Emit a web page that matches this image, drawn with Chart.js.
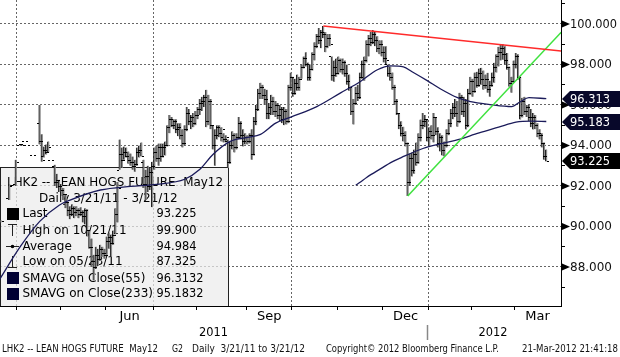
<!DOCTYPE html>
<html><head><meta charset="utf-8">
<script src="https://cdn.jsdelivr.net/npm/chart.js@4.4.0/dist/chart.umd.min.js"></script>
<style>html,body{margin:0;padding:0;background:#fff;}#wrap{width:620px;height:357px;position:relative;}</style>
</head><body><div id="wrap"><canvas id="c" width="620" height="357"></canvas></div>
<script>
// ---- data (index = trading day since 3/21/11) ----
const opens = [
null,90.25,null,null,null,91.4,null,null,92.1,null,
94.0,94.05,94.2,94.0,null,null,93.55,null,null,95.1,
94.2,93.5,93.8,93.7,93.3,null,93.0,92.2,92.3,92.0,
91.8,91.6,91.2,90.8,90.6,90.9,90.7,90.8,90.6,90.7,
90.5,90.8,89.8,89.0,88.3,88.0,88.6,88.4,88.9,88.7,
88.6,89.3,89.5,89.2,89.6,90.6,92.8,93.6,93.3,93.7,
93.5,93.3,93.2,93.0,93.1,93.7,93.8,93.2,92.1,92.5,
92.0,92.7,93.0,93.7,93.4,93.9,93.5,93.9,94.0,94.9,
95.3,95.0,95.2,94.8,94.9,94.5,94.1,94.8,95.6,95.2,
95.4,95.1,95.5,95.8,96.1,96.2,96.4,95.2,96.2,95.0,
94.0,94.5,94.9,94.6,94.4,94.3,94.2,93.2,94.0,94.5,
93.9,94.4,95.1,94.5,94.2,94.4,94.2,94.5,93.6,95.2,
95.8,96.6,96.9,96.5,96.3,95.6,95.9,96.2,95.7,96.0,
95.5,95.8,95.3,95.7,95.2,96.9,97.4,96.6,97.1,96.9,
97.3,97.9,98.3,98.0,97.4,97.8,98.5,98.9,99.4,99.2,
99.6,99.5,98.9,99.3,98.4,97.5,97.9,97.6,98.2,97.8,
98.1,97.6,97.2,96.9,95.7,96.1,96.6,96.4,97.4,98.0,
98.2,99.0,99.3,99.1,99.5,99.2,98.8,99.0,98.6,98.3,
98.0,97.6,97.4,96.9,96.2,95.6,95.0,94.6,94.5,94.1,
92.2,93.4,92.8,93.6,93.2,94.4,95.0,95.2,95.3,94.4,
94.7,94.5,95.4,94.7,94.1,94.4,93.8,94.0,94.6,95.1,
95.6,95.9,95.6,95.2,96.4,95.7,96.1,95.0,96.6,97.2,
96.7,97.4,97.0,97.6,97.3,97.0,97.3,96.8,97.0,97.4,
97.9,98.4,98.6,98.8,98.5,98.2,97.9,97.1,97.2,98.0,
98.4,97.4,95.5,96.2,95.7,95.9,95.4,95.1,95.4,95.0,
94.6,94.5,94.1,93.5];
const highs = [
null,90.3,null,null,null,92.1,null,null,93.3,null,
94.05,94.05,94.2,94.0,null,null,93.55,null,null,96.0,
94.55,93.95,94.05,94.2,93.3,null,93.05,92.6,92.3,92.1,
91.9,91.6,91.2,91.0,91.1,91.0,91.0,90.9,90.95,90.8,
90.9,90.85,89.8,89.4,88.6,89.0,88.9,89.1,89.0,88.9,
89.5,89.7,89.6,89.8,90.9,92.2,94.3,93.9,93.95,93.9,
93.7,93.6,93.45,93.3,93.9,94.0,94.15,93.3,92.8,93.0,
92.9,93.2,93.9,94.0,94.1,94.1,94.1,94.2,95.0,95.5,
95.4,95.3,95.3,95.1,95.1,94.8,95.0,95.9,95.8,95.5,
95.6,95.7,95.9,96.3,96.4,96.5,96.75,96.5,96.3,95.0,
94.8,95.0,95.0,94.9,94.6,94.5,94.3,94.2,94.7,94.6,
94.6,95.4,95.2,94.8,94.6,94.5,94.6,94.8,95.4,96.0,
96.8,97.1,97.0,96.8,96.75,96.1,96.5,96.4,96.2,96.1,
96.0,95.9,95.9,95.8,97.0,97.6,97.4,97.3,97.5,97.4,
98.0,98.4,98.6,98.1,98.0,98.6,99.1,99.5,99.8,99.7,
99.9,99.6,99.5,99.5,98.4,98.2,98.3,98.4,98.3,98.3,
98.2,98.0,97.5,96.9,96.3,96.9,97.0,97.6,98.2,98.4,
99.2,99.45,99.6,99.7,99.6,99.4,99.2,99.2,98.9,98.9,
98.0,97.9,97.6,97.0,96.3,95.6,95.2,94.93,94.7,94.15,
93.6,93.65,93.8,94.15,94.6,95.28,95.6,95.5,95.3,94.9,
95.0,95.6,95.4,94.9,94.6,94.5,94.2,94.8,95.3,95.8,
96.1,96.3,96.2,96.6,96.5,96.4,96.3,96.8,97.39,97.3,
97.6,97.64,97.8,97.84,97.7,97.5,97.59,97.2,97.6,98.08,
98.5,98.87,98.97,99.0,98.9,98.57,97.9,97.4,98.2,98.57,
98.5,97.4,96.36,96.4,96.0,96.0,95.8,95.6,95.5,95.1,
94.8,94.6,94.15,93.8];
const lows = [
null,90.2,null,null,null,91.3,null,null,92.0,null,
94.0,94.0,94.2,94.0,null,null,93.55,null,null,94.05,
93.2,93.4,93.55,93.65,93.3,null,92.0,91.9,91.7,91.5,
91.3,90.9,90.5,90.35,90.5,90.4,90.5,90.4,90.5,90.2,
90.1,89.5,88.9,88.0,87.325,87.9,88.05,88.3,88.5,88.4,
88.6,88.9,88.5,89.1,89.6,90.2,92.8,92.9,93.3,93.4,
93.1,93.0,92.8,92.7,93.0,93.4,93.45,91.9,91.3,91.7,
91.8,90.95,92.8,93.2,93.0,93.2,93.4,93.5,93.95,94.6,
94.9,94.8,94.6,94.45,94.3,93.9,94.0,94.7,95.0,94.8,
94.9,95.0,95.3,95.5,95.7,95.9,94.9,95.0,94.8,93.8,
93.0,94.3,94.4,94.2,94.15,94.15,92.9,93.1,93.8,93.65,
93.8,94.3,94.3,93.95,94.05,94.05,94.1,93.3,93.5,95.0,
95.7,96.3,96.3,96.0,95.3,95.3,95.5,95.5,95.4,95.3,
95.2,95.1,95.0,95.03,95.1,96.7,96.4,96.5,96.7,96.7,
97.3,97.8,97.9,97.2,97.2,97.7,98.2,98.8,99.0,98.8,
99.3,98.6,98.8,98.9,97.2,97.15,97.4,97.5,97.6,97.5,
97.4,97.0,96.7,95.5,95.03,96.0,96.2,96.3,97.3,97.2,
98.1,98.4,98.9,99.0,98.9,98.6,98.5,98.4,98.1,98.0,
97.4,97.2,96.75,96.0,95.5,94.8,94.44,94.2,93.95,91.5,
92.0,92.47,92.6,93.0,93.1,94.2,94.8,94.9,94.2,93.95,
94.3,94.15,94.5,93.9,93.7,93.5,93.46,93.9,94.5,94.9,
95.3,95.4,94.93,95.1,95.5,95.4,94.79,94.9,96.5,96.4,
96.6,96.85,96.9,97.0,96.75,96.8,96.6,96.41,96.9,97.1,
97.6,97.9,98.2,98.23,98.0,97.74,96.9,96.6,97.1,97.8,
97.25,95.28,95.38,95.5,95.4,95.2,94.9,94.79,94.8,94.4,
94.29,93.9,93.3,93.21];
const closes = [
null,90.25,null,null,null,92.0,null,null,93.2,null,
94.05,94.0,94.2,94.0,null,null,93.55,null,null,94.2,
93.3,93.8,93.7,93.9,93.3,null,92.2,92.3,92.0,91.8,
91.6,91.2,90.8,90.6,90.9,90.7,90.8,90.6,90.7,90.5,
90.8,89.8,89.0,88.3,88.0,88.6,88.4,88.9,88.7,88.6,
89.3,89.5,89.2,89.6,90.6,91.9,93.6,93.3,93.7,93.5,
93.3,93.2,93.0,93.1,93.7,93.8,93.5,92.1,92.5,92.0,
92.7,93.0,93.7,93.4,93.9,93.5,93.9,94.0,94.9,95.3,
95.0,95.2,94.8,94.9,94.5,94.1,94.8,95.6,95.2,95.4,
95.1,95.5,95.8,96.1,96.2,96.4,95.2,96.2,95.0,94.0,
94.5,94.9,94.6,94.8,94.3,94.4,93.2,94.0,94.5,93.9,
94.4,95.1,94.5,94.2,94.4,94.2,94.5,93.6,95.2,95.8,
96.6,96.9,96.5,96.3,95.6,95.9,96.2,95.7,96.0,95.5,
95.8,95.3,95.7,95.2,96.9,97.4,96.6,97.1,96.9,97.3,
97.9,98.3,98.0,97.4,97.8,98.5,98.9,99.4,99.2,99.6,
99.5,98.9,99.3,99.0,97.5,97.9,97.6,98.2,97.8,98.1,
97.6,97.2,96.9,95.7,96.1,96.6,96.4,97.4,98.0,98.2,
99.0,99.3,99.1,99.5,99.2,98.8,99.0,98.6,98.3,98.2,
97.6,97.4,96.9,96.2,95.6,95.0,94.6,94.5,94.1,92.2,
93.4,92.8,93.6,93.2,94.4,95.0,95.2,95.3,94.4,94.7,
94.5,95.4,94.7,94.1,94.4,93.8,94.0,94.6,95.1,95.6,
95.9,95.6,95.2,96.4,95.7,96.1,95.0,96.6,97.2,96.7,
97.4,97.0,97.6,97.3,97.0,97.3,96.8,97.0,97.4,97.9,
98.4,98.6,98.8,98.5,98.2,97.9,97.1,97.2,98.0,98.4,
97.4,95.5,96.2,95.7,95.9,95.4,95.1,95.4,95.0,94.6,
94.5,94.1,93.5,93.225];

const sma55Idx = [0,10,19,28,33,47,61,73,86,93,99,107,115,121,128,135,147,158,167,175,181,187,191,198,204,212,218,227,237,241,245,253];
const sma55Val = [87.3,89.0,90.25,91.05,91.3,91.8,91.98,92.08,92.33,92.82,93.55,94.2,94.4,94.55,95.1,95.4,95.92,96.6,97.15,97.74,97.93,97.88,97.64,97.2,96.8,96.36,96.16,96.02,95.92,96.16,96.36,96.313];
const sma233Idx = [165,167,170,176,182,186,196,205,211,222,231,239,246,253];
const sma233Val = [92.03,92.18,92.42,92.82,93.2,93.4,93.85,94.1,94.25,94.62,94.9,95.15,95.2,95.183];

const resistIdx = [150, 259.8];
const resistVal = [99.9, 98.66];
const supportIdx = [189, 259.9];
const supportVal = [91.5, 99.59];

const monthBounds = [8.5,28.5,49.5,71.5,91.5,114.5,135.5,156.5,177.5,198.5,218.5,238.5];
const quarterBounds = [8.5,71.5,135.5,198.5];
const monthLabels = ['Jun','Sep','Dec','Mar'];
const monthLabelIdx = [60.5,125,188,249];
const yearLabels = ['2011','2012'];
const yearLabelIdx = [99.3,228.4];
const yearSepIdx = 198.5;
const yTickValues = [87,88,89,90,91,92,93,94,95,96,97,98,99,100,101];
const yLabelValues = [88,90,92,94,96,98,100];

const legendTitle = 'LHK2 -- LEAN HOGS FUTURE  May12';
const legendSub = 'Daily 3/21/11 - 3/21/12';
const legendLabels = ['Last','High on 10/21/11','Average','Low on 05/23/11','SMAVG on Close(55)','SMAVG on Close(233)'];
const legendValues = ['93.225','99.900','94.984','87.325','96.3132','95.1832'];
const boxValues = [96.313, 95.183, 93.225];
const boxLabels = ['96.313','95.183','93.225'];
const footerTexts = ['LHK2 -- LEAN HOGS FUTURE  May12','G2','Daily  3/21/11 to 3/21/12','Copyright\u00A9 2012 Bloomberg Finance L.P.','21-Mar-2012 21:41:18'];

// ---- build datasets ----
const toPts = (xs, ys) => xs.map((x, i) => ({x: x, y: ys[i]}));
const barPts = [];
for (let i = 0; i < highs.length; i++) {
  if (highs[i] == null) continue;
  barPts.push({x: i, y: [lows[i], highs[i]]});
}
const BAR_INDEX = 4;
const FONT = '"DejaVu Sans", sans-serif';

const bbg = {
  id: 'bbg',
  beforeDatasetsDraw(chart) {
    const ctx = chart.ctx;
    ctx.save();
    ctx.fillStyle = 'rgba(236,236,236,0.72)';
    ctx.fillRect(0, 167, 228, 139);
    ctx.strokeStyle = '#222';
    ctx.lineWidth = 1;
    ctx.beginPath();
    ctx.moveTo(0, 167.5); ctx.lineTo(228.5, 167.5); ctx.lineTo(228.5, 306);
    ctx.moveTo(0.5, 167.5); ctx.lineTo(0.5, 306);
    ctx.stroke();
    ctx.fillStyle = '#000';
    ctx.textBaseline = 'middle';
    ctx.font = '12px ' + FONT;
    ctx.textAlign = 'left';
    ctx.fillText(legendTitle, 7, 183, 216);
    ctx.fillText(legendSub, 39, 198.5, 141);
    const rowsY = [214, 230.5, 246.5, 262, 278.5, 294];
    for (let r = 0; r < legendLabels.length; r++) {
      ctx.fillText(legendLabels[r], 22.5, rowsY[r]);
      ctx.fillText(legendValues[r], 156.5, rowsY[r], legendValues[r].length > 6 ? 47 : 40);
    }
    ctx.fillStyle = '#000';
    ctx.fillRect(7, 208, 12, 12);
    ctx.beginPath();
    ctx.moveTo(8, 224.5); ctx.lineTo(17, 224.5);
    ctx.moveTo(12.5, 224.5); ctx.lineTo(12.5, 236);
    ctx.moveTo(6, 246.5); ctx.lineTo(19, 246.5);
    ctx.moveTo(12.5, 256); ctx.lineTo(12.5, 267.5);
    ctx.moveTo(8, 267.5); ctx.lineTo(17, 267.5);
    ctx.stroke();
    ctx.beginPath(); ctx.arc(12.5, 246.5, 1.8, 0, Math.PI * 2); ctx.fill();
    ctx.fillStyle = '#000033';
    ctx.fillRect(7, 272, 12, 12);
    ctx.fillRect(7, 288, 12, 12);
    ctx.restore();
  },
  afterDatasetDraw(chart, args) {
    if (args.index !== BAR_INDEX) return;
    const ctx = chart.ctx, xs = chart.scales.x, ys = chart.scales.y, a = chart.chartArea;
    ctx.save();
    ctx.beginPath(); ctx.rect(a.left, a.top, a.right - a.left, a.bottom - a.top); ctx.clip();
    ctx.strokeStyle = '#000';
    ctx.lineWidth = 1;
    ctx.beginPath();
    for (let i = 0; i < highs.length; i++) {
      if (highs[i] == null) continue;
      const px = Math.round(xs.getPixelForValue(i));
      const po = Math.round(ys.getPixelForValue(opens[i])) + 0.5;
      const pc = Math.round(ys.getPixelForValue(closes[i])) + 0.5;
      ctx.moveTo(px - 3, po); ctx.lineTo(px - 1, po);
      ctx.moveTo(px + 1, pc); ctx.lineTo(px + 3, pc);
    }
    ctx.stroke();
    ctx.restore();
  },
  afterDraw(chart) {
    const ctx = chart.ctx, xs = chart.scales.x, ys = chart.scales.y, a = chart.chartArea;
    ctx.save();
    ctx.textBaseline = 'middle';
    ctx.textAlign = 'left';
    ctx.font = '12px ' + FONT;
    for (const v of yLabelValues) {
      const y = ys.getPixelForValue(v);
      ctx.fillStyle = '#000';
      ctx.beginPath();
      ctx.moveTo(a.right + 1, y - 3.5); ctx.lineTo(a.right + 9, y); ctx.lineTo(a.right + 1, y + 3.5); ctx.closePath();
      ctx.fill();
      ctx.fillStyle = '#111';
      ctx.fillText(v.toFixed(3), a.right + 9, y + 0.5, 47);
    }
    for (let k = 0; k < boxValues.length; k++) {
      const y = Math.round(ys.getPixelForValue(boxValues[k]));
      ctx.fillStyle = k < 2 ? '#08082a' : '#000';
      ctx.beginPath();
      ctx.moveTo(a.right + 1, y);
      ctx.lineTo(a.right + 9, y - 8);
      ctx.lineTo(620, y - 8);
      ctx.lineTo(620, y + 8);
      ctx.lineTo(a.right + 9, y + 8);
      ctx.closePath();
      ctx.fill();
      ctx.fillStyle = '#fff';
      ctx.fillText(boxLabels[k], a.right + 9, y + 0.5, 40);
    }
    ctx.fillStyle = '#000';
    ctx.textAlign = 'center';
    ctx.font = '13px ' + FONT;
    for (let m = 0; m < monthLabels.length; m++) {
      ctx.fillText(monthLabels[m], xs.getPixelForValue(monthLabelIdx[m]), 317);
    }
    ctx.font = '12.5px ' + FONT;
    for (let m = 0; m < yearLabels.length; m++) {
      ctx.fillText(yearLabels[m], xs.getPixelForValue(yearLabelIdx[m]), 333, 29);
    }
    const sx = Math.round(xs.getPixelForValue(yearSepIdx)) - 0.5;
    ctx.strokeStyle = '#888'; ctx.lineWidth = 1.5;
    ctx.beginPath(); ctx.moveTo(sx, 325); ctx.lineTo(sx, 340); ctx.stroke();
    ctx.textAlign = 'left';
    ctx.fillStyle = '#111';
    ctx.font = '10px ' + FONT;
    const fx = [2, 172, 192, 326, 522];
    const fw = [156, 11, 113, 173, 96];
    for (let f = 0; f < footerTexts.length; f++) {
      ctx.fillText(footerTexts[f], fx[f], 349.5, fw[f]);
    }
    ctx.restore();
  }
};

new Chart(document.getElementById('c'), {
  type: 'bar',
  data: {
    datasets: [
      {type: 'line', data: toPts(resistIdx, resistVal), borderColor: '#ff2b2b', borderWidth: 1.5, pointRadius: 0},
      {type: 'line', data: toPts(supportIdx, supportVal), borderColor: '#3fe23f', borderWidth: 1.5, pointRadius: 0},
      {type: 'line', data: toPts(sma55Idx, sma55Val), borderColor: '#1b1b5a', borderWidth: 1.3, pointRadius: 0, cubicInterpolationMode: 'monotone'},
      {type: 'line', data: toPts(sma233Idx, sma233Val), borderColor: '#1b1b5a', borderWidth: 1.3, pointRadius: 0, cubicInterpolationMode: 'monotone'},
      {type: 'bar', data: barPts, backgroundColor: '#8e8e8e', borderColor: '#1e1e1e', borderWidth: {left: 1, right: 0, top: 0, bottom: 0}, borderSkipped: false, barThickness: 2, grouped: false}
    ]
  },
  options: {
    responsive: false,
    animation: false,
    devicePixelRatio: 1,
    layout: {padding: 0},
    plugins: {legend: {display: false}, tooltip: {enabled: false}},
    events: [],
    scales: {
      x: {
        type: 'linear', min: 0.65, max: 259.8, offset: false,
        afterBuildTicks: (s) => { s.ticks = monthBounds.map(v => ({value: v})); },
        afterFit: (s) => { s.height = 51; },
        ticks: {display: false},
        grid: {
          offset: false,
          color: (c) => (c.tick && quarterBounds.includes(c.tick.value)) ? '#666' : 'rgba(0,0,0,0)',
          lineWidth: 1, drawTicks: true, tickLength: 4, tickColor: '#000', tickWidth: 1
        },
        border: {display: true, color: '#000', width: 1, dash: [2, 2]}
      },
      y: {
        type: 'linear', position: 'right', min: 86.07, max: 101.185,
        afterBuildTicks: (s) => { s.ticks = yTickValues.map(v => ({value: v})); },
        afterFit: (s) => { s.width = 59; },
        ticks: {display: false},
        grid: {
          color: (c) => (c.tick && c.tick.value % 2 === 0) ? '#666' : 'rgba(0,0,0,0)',
          lineWidth: 1, drawTicks: true, tickLength: 4,
          tickColor: (c) => (c.tick && c.tick.value % 2 !== 0) ? '#000' : 'rgba(0,0,0,0)'
        },
        border: {display: true, color: '#000', width: 1, dash: [2, 2]}
      }
    }
  },
  plugins: [bbg]
});
</script>
</body></html>
